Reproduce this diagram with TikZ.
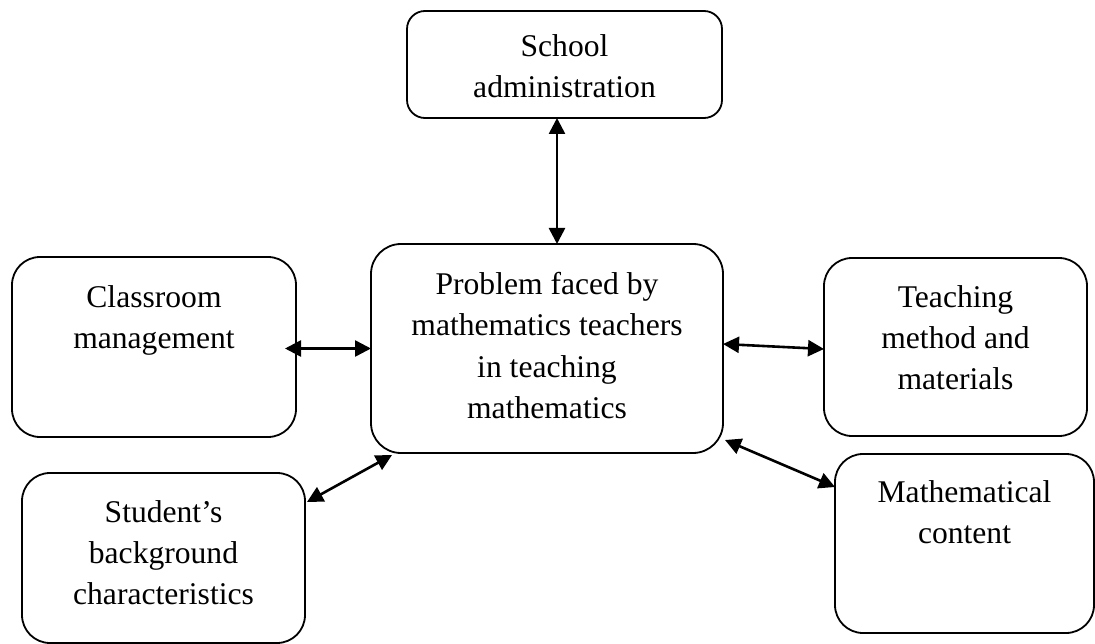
\documentclass[tikz,border=0pt]{standalone}
\usepackage{fontspec}
\setmainfont{Liberation Serif}
\usetikzlibrary{arrows.meta}
\tikzset{
  box/.style={draw, line width=1.8pt, rounded corners=28pt, inner sep=0pt, outer sep=0pt},
  lbl/.style={anchor=north, align=center, inner sep=0pt, font=\fontsize{31.6}{41.3}\selectfont},
  arr/.style={line width=2.6pt, {Triangle[length=16pt,width=16pt]}-{Triangle[length=16pt,width=16pt]}}
}
\begin{document}
\begin{tikzpicture}[x=1pt,y=-1pt]
\useasboundingbox (0,0) rectangle (1095,644);
% boxes
\node[box, rounded corners=18pt, minimum width=315pt, minimum height=107pt] (school) at (564.5,64.5) {};
\node[box, rounded corners=30pt, minimum width=352pt, minimum height=209pt] (central) at (547,348.5) {};
\node[box, minimum width=284pt, minimum height=180pt] (classroom) at (154,347) {};
\node[box, minimum width=263pt, minimum height=178pt] (teaching) at (955.5,347) {};
\node[box, minimum width=259pt, minimum height=179pt] (math) at (964.5,543.5) {};
\node[box, minimum width=283pt, minimum height=170pt] (student) at (163.5,558) {};
% texts
\node[lbl] (schoolT) at (564.5,34) {School\\administration};
\node[lbl] (centralT) at (547,272) {Problem faced by\\mathematics teachers\\in teaching\\mathematics};
\node[lbl] (classroomT) at (154,285) {Classroom\\management};
\node[lbl] (teachingT) at (955.5,285) {Teaching\\method and\\materials};
\node[lbl] (mathT) at (964.5,480) {Mathematical\\content};
\node[lbl] (studentT) at (163.5,500) {Student’s\\background\\characteristics};
% connectors
\draw[arr] ([xshift=-7.5pt]school.south) -- ([xshift=10pt]central.north);
\draw[arr] ([xshift=-11pt,yshift=-1.5pt]classroom.east) -- (central.west);
\draw[arr] ([yshift=4.5pt]central.east) -- ([yshift=-2pt]teaching.west);
\draw[arr] ([xshift=2pt,yshift=13pt]central.south east) -- ([yshift=-33pt]math.north west);
\draw[arr] ([xshift=21pt,yshift=-2pt]central.south west) -- ([xshift=2pt,yshift=-29pt]student.north east);
\end{tikzpicture}
\end{document}
